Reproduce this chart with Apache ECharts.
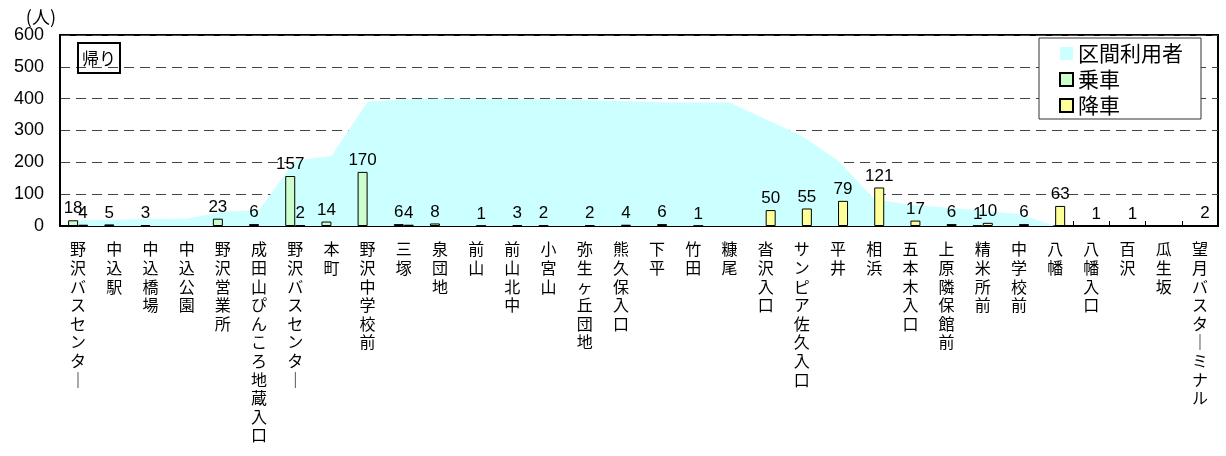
<!DOCTYPE html>
<html>
<head>
<meta charset="utf-8">
<script src="https://cdn.jsdelivr.net/npm/echarts@6/dist/echarts.min.js"></script>
<style>
  html, body { margin: 0; padding: 0; background: #fff; }
  #main { width: 1226px; height: 456px; }
</style>
</head>
<body>
<div id="main"></div>
<script>
// バス停（帰り）
const stops = [
  '野沢バスセンター', '中込駅', '中込橋場', '中込公園', '野沢営業所', '成田山ぴんころ地蔵入口',
  '野沢バスセンター', '本町', '野沢中学校前', '三塚', '泉団地', '前山', '前山北中', '小宮山',
  '弥生ヶ丘団地', '熊久保入口', '下平', '竹田', '糠尾', '沓沢入口', 'サンピア佐久入口', '平井',
  '相浜', '五本木入口', '上原隣保館前', '精米所前', '中学校前', '八幡', '八幡入口', '百沢',
  '瓜生坂', '望月バスターミナル'
];
// 区間利用者
const sectionUsers = [
  18, 20, 22, 23, 45, 50, 206, 220, 390, 398, 400, 399, 398, 398, 396, 393,
  389, 388, 388, 335, 283, 206, 85, 66, 58, 48, 38, 0, 0, 0, 0, 0
];
// 乗車
const boarding = [
  18, 5, 3, null, 23, 6, 157, 14, 170, 6, 8, null, null, 2, null, null,
  null, null, null, null, null, null, null, null, null, 1, null, null, null, null, null, null
];
// 降車
const alighting = [
  4, null, null, null, null, null, 2, null, null, 4, null, 1, 3, null, 2, 4,
  6, 1, null, 50, 55, 79, 121, 17, 6, 10, 6, 63, 1, 1, null, 2
];
const yTicks = [0, 100, 200, 300, 400, 500, 600];

const numFont = "'Liberation Sans', 'Noto Sans CJK JP', sans-serif";
const jpFont = "'Noto Sans CJK JP', sans-serif";

const barLabel = {
  show: true,
  position: 'top',
  distance: 3,
  color: '#000',
  fontSize: 17,
  fontFamily: numFont,
  formatter: p => (p.value ? p.value : '')
};

// 縦書き風に1文字ずつ改行
function vertical(s) {
  return s.replace(/ー/g, '｜').split('').join('\n');
}

const chart = echarts.init(document.getElementById('main'), null, { renderer: 'canvas' });

const option = {
  backgroundColor: '#fff',
  animation: false,
  title: {
    text: '帰り',
    left: 78,
    top: 43,
    padding: [7, 4, 6, 4],
    borderColor: '#000',
    borderWidth: 2,
    textStyle: { fontSize: 17, fontWeight: 'normal', color: '#000', fontFamily: jpFont }
  },
  legend: {
    orient: 'vertical',
    left: 1039,
    top: 38,
    padding: [5, 18, 3, 20],
    itemGap: 5,
    itemWidth: 13,
    itemHeight: 13,
    backgroundColor: '#fff',
    borderColor: '#333',
    borderWidth: 1,
    borderRadius: 0,
    icon: 'rect',
    textStyle: { fontSize: 21, lineHeight: 21, color: '#000', fontFamily: jpFont },
    data: ['区間利用者', '乗車', '降車']
  },
  grid: {
    left: 60,
    right: 8,
    top: 35,
    bottom: 230,
    show: true,
    borderColor: '#000',
    borderWidth: 2,
    containLabel: false
  },
  xAxis: {
    type: 'category',
    data: stops,
    boundaryGap: true,
    axisLine: { show: true, lineStyle: { color: '#000', width: 2 } },
    axisTick: { show: true, inside: true, length: 5, lineStyle: { color: '#000' } },
    axisLabel: {
      interval: 0,
      margin: 14,
      fontSize: 16,
      lineHeight: 18.6,
      color: '#000',
      fontFamily: jpFont,
      formatter: vertical
    },
    splitLine: { show: false }
  },
  yAxis: {
    type: 'value',
    min: 0,
    max: 600,
    interval: 100,
    name: '(人)',
    nameLocation: 'end',
    nameGap: 9,
    nameTextStyle: { fontSize: 18, color: '#000', align: 'right', fontFamily: jpFont, padding: [0, 4, 0, 0] },
    axisLine: { show: true, lineStyle: { color: '#000', width: 2 } },
    axisTick: { show: false },
    axisLabel: {
      margin: 16,
      fontSize: 18,
      color: '#000',
      fontFamily: numFont,
      formatter: v => (yTicks.includes(v) ? String(v) : '')
    },
    splitLine: { show: true, lineStyle: { color: '#444', width: 1, type: [10, 6] } }
  },
  series: [
    {
      name: '区間利用者',
      type: 'line',
      data: sectionUsers,
      showSymbol: false,
      symbol: 'none',
      lineStyle: { width: 0, opacity: 0 },
      itemStyle: { color: '#ccffff' },
      areaStyle: { color: '#ccffff', opacity: 1 },
      z: 1
    },
    {
      name: '乗車',
      type: 'bar',
      data: boarding,
      barWidth: 10,
      barGap: '0%',
      itemStyle: { color: '#ccffcc', borderColor: '#000', borderWidth: 1 },
      label: barLabel,
      z: 3
    },
    {
      name: '降車',
      type: 'bar',
      data: alighting,
      barWidth: 10,
      barGap: '0%',
      itemStyle: { color: '#ffff99', borderColor: '#000', borderWidth: 1 },
      label: barLabel,
      z: 3
    }
  ]
};

chart.setOption(option);
window.addEventListener('resize', () => {
  chart.resize();
});
</script>
</body>
</html>
